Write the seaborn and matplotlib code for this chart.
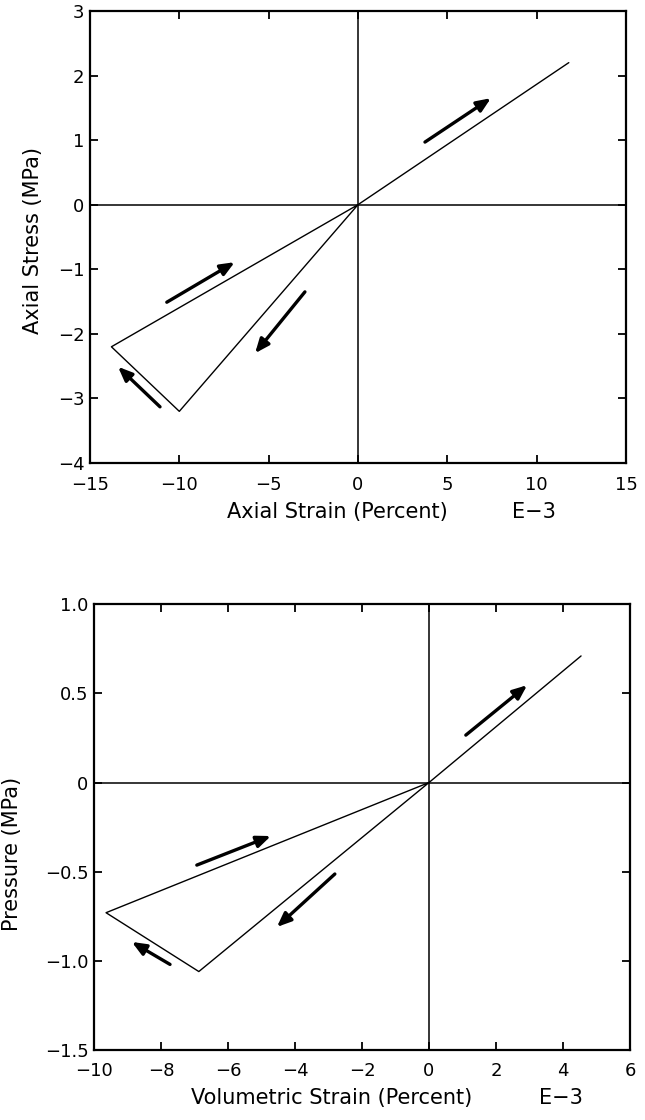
import matplotlib
matplotlib.use("Agg")
import matplotlib.pyplot as plt
import seaborn as sns
import pandas as pd

# ---------------- data ----------------
# Top panel: axial stress vs axial strain (E-3 percent)
axial_strain = [0.0, -10.0, -13.8, 0.0, 11.8]
axial_stress = [0.0, -3.2, -2.2, 0.0, 2.2]
top_xticks = [-15, -10, -5, 0, 5, 10, 15]
top_xticklabels = ["\u221215", "\u221210", "\u22125", "0", "5", "10", "15"]
top_yticks = [-4, -3, -2, -1, 0, 1, 2, 3]
top_yticklabels = ["\u22124", "\u22123", "\u22122", "\u22121", "0", "1", "2", "3"]
# arrows (tail x, tail y, head x, head y)
top_arrow_x0 = [3.75, -10.7, -2.97, -11.08]
top_arrow_y0 = [0.97, -1.51, -1.35, -3.13]
top_arrow_x1 = [7.44, -6.9, -5.76, -13.43]
top_arrow_y1 = [1.65, -0.89, -2.30, -2.51]

# Bottom panel: pressure vs volumetric strain (E-3 percent)
vol_strain = [0.0, -6.87, -9.64, 0.0, 4.54]
pressure = [0.0, -1.06, -0.73, 0.0, 0.71]
bot_xticks = [-10, -8, -6, -4, -2, 0, 2, 4, 6]
bot_xticklabels = ["\u221210", "\u22128", "\u22126", "\u22124", "\u22122", "0", "2", "4", "6"]
bot_yticks = [-1.5, -1.0, -0.5, 0.0, 0.5, 1.0]
bot_yticklabels = ["\u22121.5", "\u22121.0", "\u22120.5", "0", "0.5", "1.0"]
bot_arrow_x0 = [1.10, -6.93, -2.81, -7.73]
bot_arrow_y0 = [0.266, -0.463, -0.513, -1.02]
bot_arrow_x1 = [2.93, -4.72, -4.54, -8.87]
bot_arrow_y1 = [0.546, -0.30, -0.81, -0.894]

# ---------------- style ----------------
sns.set_theme(style="ticks")
plt.rcParams["font.family"] = ["DejaVu Sans"]
plt.rcParams["axes.linewidth"] = 1.5
plt.rcParams["text.color"] = "black"
plt.rcParams["axes.labelcolor"] = "black"

fig = plt.figure(figsize=(6.45, 11.2), dpi=100)
ax1 = fig.add_axes([0.1395, 0.5866, 0.831, 0.4036])
ax2 = fig.add_axes([0.1457, 0.0625, 0.831, 0.398])

LABEL_FS = 15
TICK_FS = 13


def draw_panel(ax, xs, ys, xlim, ylim, xt, xtl, yt, ytl,
               ax0, ay0, ax1_, ay1, xlabel, ylabel, xlab_pos, e_pos, ylab_pos):
    df = pd.DataFrame({"x": xs, "y": ys})
    ax.axhline(0, color="black", lw=1.1, zorder=1)
    ax.axvline(0, color="black", lw=1.1, zorder=1)
    sns.lineplot(data=df, x="x", y="y", sort=False, estimator=None,
                 color="black", lw=1.0, ax=ax, zorder=2)
    for a, b, c, d in zip(ax0, ay0, ax1_, ay1):
        ax.annotate("", xy=(c, d), xytext=(a, b),
                    arrowprops=dict(arrowstyle="-|>,head_length=0.6,head_width=0.25",
                                    color="black", lw=2.4,
                                    mutation_scale=14, shrinkA=0, shrinkB=0))
    ax.set_xlim(*xlim)
    ax.set_ylim(*ylim)
    ax.set_xticks(xt)
    ax.set_xticklabels(xtl)
    ax.set_yticks(yt)
    ax.set_yticklabels(ytl)
    ax.tick_params(direction="in", length=6, width=1.3, top=True, right=True,
                   labelsize=TICK_FS, colors="black")
    ax.tick_params(axis="x", pad=9)
    ax.tick_params(axis="y", pad=4)
    for s in ax.spines.values():
        s.set_visible(True)
        s.set_color("black")
        s.set_linewidth(1.6)
    ax.set_xlabel("")
    ax.set_ylabel(ylabel, fontsize=LABEL_FS, color="black")
    ax.yaxis.set_label_coords(*ylab_pos)
    ax.text(xlab_pos[0], xlab_pos[1], xlabel, transform=ax.transAxes,
            ha="center", va="center", fontsize=LABEL_FS, color="black")
    ax.text(e_pos[0], e_pos[1], "E\u22123", transform=ax.transAxes,
            ha="center", va="center", fontsize=LABEL_FS, color="black")


draw_panel(ax1, axial_strain, axial_stress, (-15, 15), (-4, 3),
           top_xticks, top_xticklabels, top_yticks, top_yticklabels,
           top_arrow_x0, top_arrow_y0, top_arrow_x1, top_arrow_y1,
           "Axial Strain (Percent)", "Axial Stress (MPa)",
           (0.461, -0.108), (0.828, -0.108), (-0.088, 0.493))

draw_panel(ax2, vol_strain, pressure, (-10, 6), (-1.5, 1.0),
           bot_xticks, bot_xticklabels, bot_yticks, bot_yticklabels,
           bot_arrow_x0, bot_arrow_y0, bot_arrow_x1, bot_arrow_y1,
           "Volumetric Strain (Percent)", "Pressure (MPa)",
           (0.444, -0.107), (0.871, -0.107), (-0.134, 0.44))

fig.savefig("out.png", dpi=100, facecolor="white")
